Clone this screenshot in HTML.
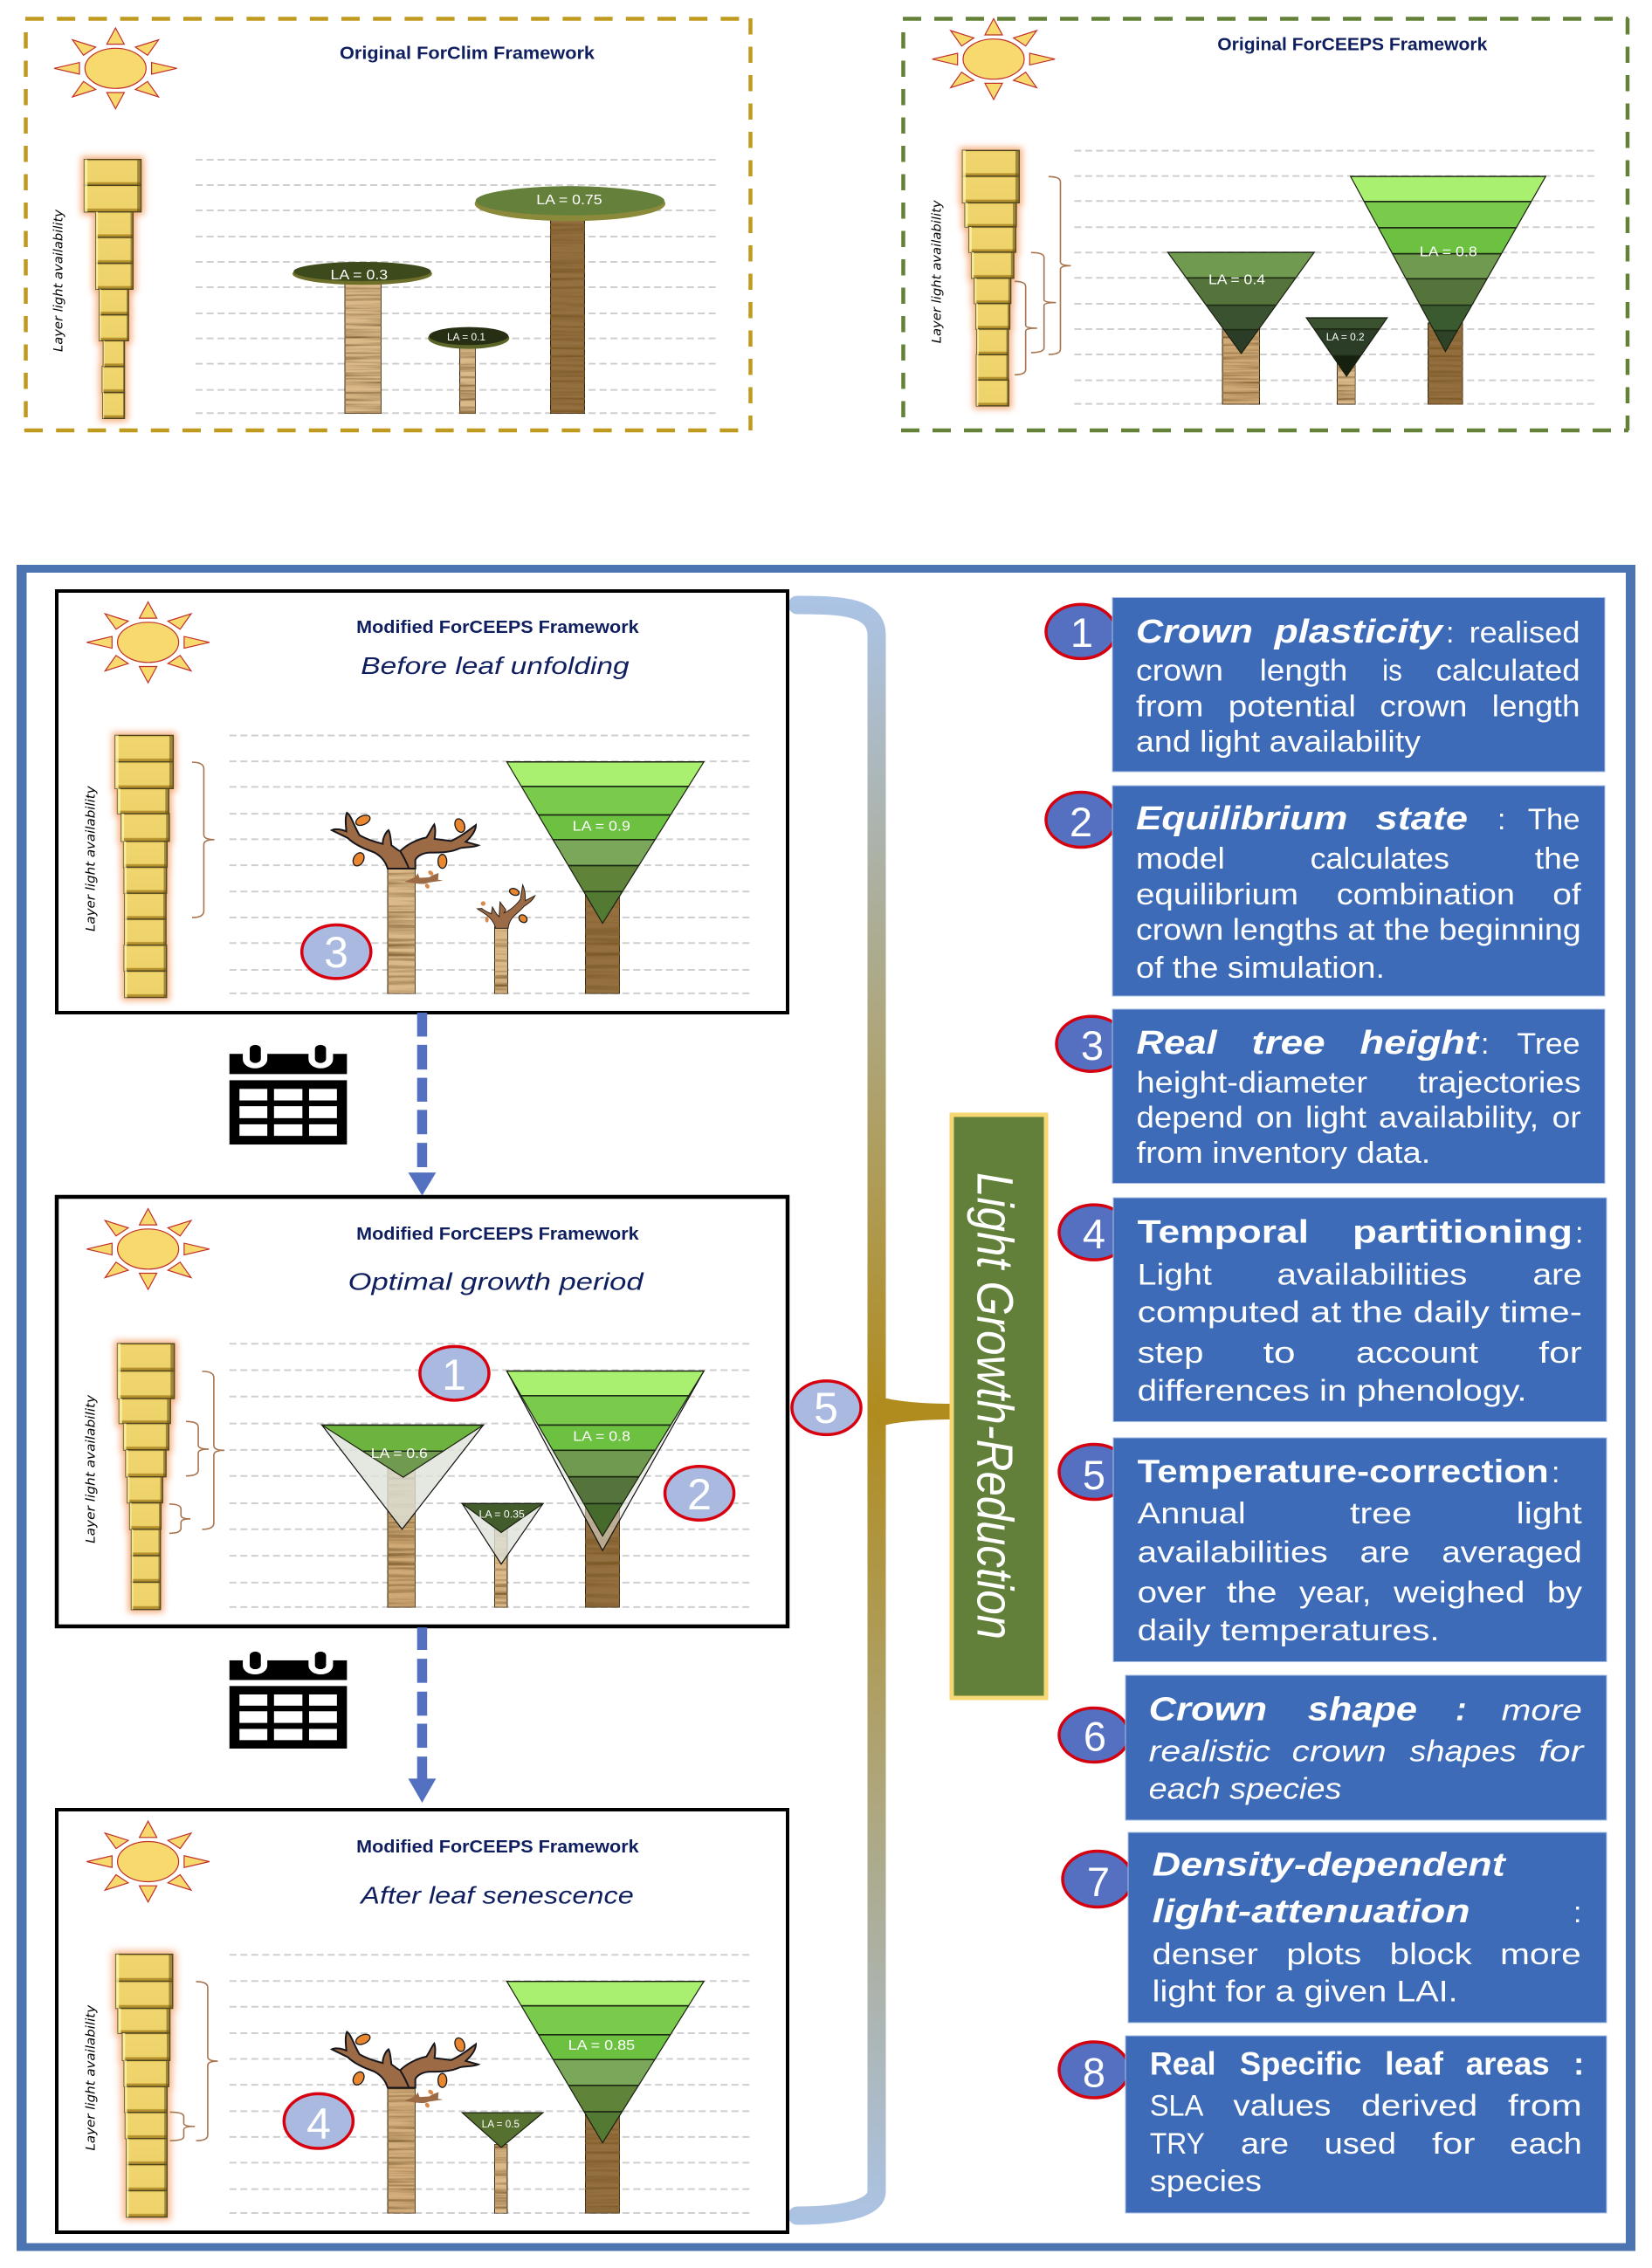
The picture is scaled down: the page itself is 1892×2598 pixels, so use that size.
<!DOCTYPE html>
<html><head><meta charset="utf-8"><title>Light Growth-Reduction framework</title>
<style>
html,body{margin:0;padding:0;background:#fff}
svg{display:block}
svg *{vector-effect:non-scaling-stroke}
text{font-family:"Liberation Sans",sans-serif}
.w{fill:#fff;font-size:34px}
.bi{fill:#fff;font-size:38px;font-weight:bold;font-style:italic}
.bo{fill:#fff;font-size:37px;font-weight:bold}
.i{fill:#fff;font-size:34px;font-style:italic}
.ti{fill:#0f1e5e;font-size:20px;font-weight:bold}
.su{fill:#0f1e5e;font-size:28px;font-style:italic}
.la{fill:#fff;font-size:16px}
.las{fill:#fff;font-size:11.5px}
.ll{fill:#000;font-size:14.5px;font-style:italic;font-family:"DejaVu Sans",sans-serif}
.d{fill:#fff;font-size:50px;text-anchor:middle}
.g{fill:none;stroke:#cfcfcf;stroke-width:2;stroke-dasharray:8 4.5}
.br{fill:none;stroke:#a8744e;stroke-width:1.6}
.bar{fill:url(#barG);stroke:#4d4420;stroke-width:1.4}
.barh{fill:url(#barH);stroke:none}
.gl{fill:#f28a45;stroke:#f28a45;stroke-width:7;opacity:.7}
.cr{stroke:#1d2a14;stroke-width:1.6}
.ol{fill:none;stroke:#1a2010;stroke-width:1.2}
.gh{fill:#dfe2da;stroke:#111;stroke-width:1.2}
.lf{fill:#e8872f;stroke:#1a1a1a;stroke-width:1.3}
.wd{stroke:#2a2016;stroke-width:1.2}
</style></head>
<body>
<svg xmlns="http://www.w3.org/2000/svg" width="1892" height="2598" viewBox="0 0 1892 2598">
<defs>
<linearGradient id="barG" x1="0" y1="0" x2="0" y2="1"><stop offset="0" stop-color="#d6b64a"/><stop offset=".08" stop-color="#f0d56e"/><stop offset=".86" stop-color="#eed26a"/><stop offset=".9" stop-color="#b4912c"/><stop offset="1" stop-color="#b4912c"/></linearGradient>
<linearGradient id="barH" x1="0" y1="0" x2="1" y2="0"><stop offset="0" stop-color="#fff6a8" stop-opacity=".8"/><stop offset=".05" stop-color="#fff6a8" stop-opacity=".8"/><stop offset=".06" stop-color="#fff" stop-opacity="0"/><stop offset=".93" stop-color="#000" stop-opacity="0"/><stop offset=".94" stop-color="#6b5518" stop-opacity=".6"/><stop offset="1" stop-color="#6b5518" stop-opacity=".6"/></linearGradient>
<linearGradient id="brk" gradientUnits="userSpaceOnUse" x1="0" y1="690" x2="0" y2="2545"><stop offset="0" stop-color="#abc3e4"/><stop offset=".5" stop-color="#b08c1f"/><stop offset="1" stop-color="#abc3e4"/></linearGradient>
<filter id="wood" x="0" y="0" width="1" height="1"><feTurbulence type="fractalNoise" baseFrequency="0.004 0.09" numOctaves="4" seed="7"/><feColorMatrix type="matrix" values="0 0 0 0 .2 0 0 0 0 .1 0 0 0 0 .02 2.4 0 0 0 -.95"/><feComposite in2="SourceGraphic" operator="in" result="n"/><feMerge><feMergeNode in="SourceGraphic"/><feMergeNode in="n"/></feMerge></filter>
<filter id="glow" x="-40%" y="-15%" width="180%" height="130%"><feGaussianBlur stdDeviation="7 11"/></filter>
<filter id="glow3" x="-40%" y="-15%" width="180%" height="130%"><feGaussianBlur stdDeviation="6 8"/></filter>
<g id="sun"><ellipse cx="0" cy="0" rx="35" ry="23" fill="#f7d96e" stroke="#c0302a" stroke-width="1.2"/>
<g fill="#f7d96e" stroke="#c0302a" stroke-width="1.2"><polygon points="0,-46.3 -10,-27.7 10,-27.7"/><polygon points="0,46.3 -10,27.7 10,27.7"/><polygon points="70.3,0 41.3,-6.7 41.3,6.7"/><polygon points="-70.3,0 -41.3,-6.7 -41.3,6.7"/><polygon points="49.3,-32.7 22.7,-24.3 36.7,-15"/><polygon points="-49.3,-32.7 -22.7,-24.3 -36.7,-15"/><polygon points="49.3,32.7 22.7,24.3 36.7,15"/><polygon points="-49.3,32.7 -22.7,24.3 -36.7,15"/></g></g>
<g id="tree">
<path d="M222,240C215,215 195,190 165,180C130,168 100,150 85,135L30,108C45,100 70,108 80,112C78,90 75,65 82,48C95,55 105,90 125,125C150,140 185,150 205,155C205,135 215,115 225,108C232,120 232,140 235,160C250,170 258,178 265,180C285,160 320,140 355,133C365,120 372,100 382,88C388,105 385,125 383,138L440,145C475,130 505,105 525,90C525,110 510,130 490,148L533,160C515,168 490,165 470,170C440,185 400,185 370,185C345,185 325,195 317,210L317,240Z" fill="#9c6b46" stroke="#16161c" stroke-width="2"/>
<path d="M266,182C278,200 288,222 296,242" fill="none" stroke="#16161c" stroke-width="2"/>
<path d="M280,285C300,275 320,272 325,255L332,272L365,270C375,262 390,258 397,255L395,278L412,281C390,285 370,285 350,292C330,294 310,290 280,285Z" fill="#9c6b46"/>
<ellipse class="lf" cx="137" cy="74" rx="26" ry="15" transform="rotate(-25 137 74)"/><ellipse class="lf" cx="122" cy="208" rx="17" ry="24" transform="rotate(30 122 208)"/><ellipse class="lf" cx="470" cy="92" rx="16" ry="24" transform="rotate(-20 470 92)"/><ellipse class="lf" cx="410" cy="215" rx="15" ry="24"/>
<ellipse cx="370" cy="255" rx="10" ry="7" fill="#d98a4a" transform="rotate(40 370 255)"/><ellipse cx="358" cy="300" rx="7" ry="9" fill="#d98a4a" transform="rotate(-30 358 300)"/></g>
<g id="tree2">
<path d="M592,445C590,425 575,410 560,398C548,390 540,385 530,378L545,377C555,385 565,390 578,395L582,372C590,385 592,395 605,405L608,355L628,382L622,392C640,385 665,365 678,345L686,296C695,315 695,335 695,350L728,333C720,350 705,360 690,370C670,395 640,405 636,445Z" fill="#9c6b46" stroke="#2a2016" stroke-width="1"/>
<ellipse class="lf" cx="657" cy="320" rx="17" ry="11" transform="rotate(20 657 320)"/><ellipse class="lf" cx="687" cy="412" rx="15" ry="12" transform="rotate(40 687 412)"/><circle cx="550" cy="360" r="8" fill="#d98a4a"/><ellipse cx="563" cy="415" rx="6" ry="10" fill="#d98a4a"/></g>
<g id="cal"><rect x="412" y="1202" width="211" height="49" fill="#000"/><rect x="412" y="1266" width="211" height="156" fill="#000"/>
<path d="M436,1200V1215A22,22 0 0 0 480,1215V1200Z" fill="#fff"/><path d="M554,1200V1215A22,22 0 0 0 598,1215V1200Z" fill="#fff"/><rect x="448.400" y="1180" width="20" height="44" rx="10" fill="#000"/><rect x="565.500" y="1180" width="20" height="44" rx="10" fill="#000"/>
<g fill="#fff"><rect x="430" y="1287" width="50" height="28"/><rect x="492" y="1287" width="51" height="28"/><rect x="555" y="1287" width="50" height="28"/><rect x="430" y="1329" width="50" height="29"/><rect x="492" y="1329" width="51" height="29"/><rect x="555" y="1329" width="50" height="29"/><rect x="430" y="1373" width="50" height="28"/><rect x="492" y="1373" width="51" height="28"/><rect x="555" y="1373" width="50" height="28"/></g></g>
<g id="b1"><rect x="168" y="548" width="113" height="89"/><rect x="168" y="637" width="113" height="91"/><rect x="191" y="728" width="74" height="88"/><rect x="191" y="816" width="74" height="89"/><rect x="191" y="905" width="74" height="89"/><rect x="198" y="994" width="58" height="88"/><rect x="198" y="1082" width="58" height="89"/><rect x="206" y="1171" width="42" height="89"/><rect x="204" y="1260" width="44" height="89"/><rect x="205" y="1349" width="43" height="89"/></g>
<g id="b2"><rect x="180" y="517" width="114" height="89"/><rect x="180" y="606" width="114" height="91"/><rect x="185" y="697" width="103" height="83"/><rect x="193" y="780" width="94" height="87"/><rect x="198" y="867" width="85" height="89"/><rect x="204" y="956" width="73" height="87"/><rect x="207" y="1043" width="68" height="88"/><rect x="209" y="1131" width="63" height="88"/><rect x="208" y="1219" width="64" height="87"/><rect x="208" y="1306" width="65" height="89"/></g>
<g id="b3"><rect x="207" y="429" width="104" height="64"/><rect x="207" y="493" width="104" height="65"/><rect x="211" y="558" width="92" height="61"/><rect x="218" y="619" width="86" height="67"/><rect x="222" y="686" width="78" height="63"/><rect x="223" y="749" width="76" height="63"/><rect x="224" y="812" width="74" height="63"/><rect x="224" y="875" width="74" height="63"/><rect x="223" y="938" width="76" height="63"/><rect x="224" y="1001" width="75" height="64"/></g>
<g id="b4"><rect x="211" y="412" width="102" height="68"/><rect x="211" y="480" width="102" height="69"/><rect x="214" y="549" width="92" height="62"/><rect x="222" y="611" width="81" height="66"/><rect x="226" y="677" width="72" height="67"/><rect x="229" y="744" width="63" height="65"/><rect x="233" y="809" width="56" height="66"/><rect x="236" y="875" width="52" height="66"/><rect x="236" y="941" width="52" height="66"/><rect x="236" y="1007" width="52" height="68"/></g>
<g id="b5"><rect x="208" y="558" width="102" height="87"/><rect x="208" y="645" width="102" height="87"/><rect x="212" y="732" width="93" height="80"/><rect x="220" y="812" width="85" height="88"/><rect x="223" y="900" width="80" height="84"/><rect x="224" y="984" width="76" height="83"/><rect x="225" y="1067" width="75" height="84"/><rect x="227" y="1151" width="73" height="84"/><rect x="227" y="1235" width="73" height="84"/><rect x="227" y="1319" width="73" height="85"/></g>
<clipPath id="c2a"><polygon points="593,867 888,867 741,1215"/></clipPath>
<clipPath id="c2b"><polygon points="872,1092 1035,1092 953,1293"/></clipPath>
<clipPath id="c2c"><polygon points="961,606 1354,606 1152,1208"/></clipPath>
<clipPath id="c3c"><polygon points="910,493 1264,493 1082,885"/></clipPath>
<clipPath id="c4a"><polygon points="578,615 868,615 724,745"/></clipPath>
<clipPath id="c4c"><polygon points="910,480 1264,480 1082,892"/></clipPath>
<clipPath id="c5c"><polygon points="910,645 1264,645 1082,1165"/></clipPath>
</defs>
<rect width="1892" height="2598" fill="#fff"/>

<!-- Frame 1 -->
<g fill="none" stroke="#bf9a1f" stroke-width="4.5"><path d="M29 21.5H860" stroke-dasharray="21 15.2"/><path d="M28 493H860" stroke-dasharray="21 15.2"/><path d="M29.5 37V493" stroke-dasharray="18.5 14"/><path d="M859.5 21V493" stroke-dasharray="18.5 14"/></g>
<use href="#sun" transform="translate(132.3,78.3)"/>
<g transform="scale(.5747,.3333)">
<path class="g" d="M390 549H1430M390 636H1430M390 723H1430M390 813H1430M390 900H1430M390 987H1430M390 1077H1430M390 1163H1430M390 1250H1430M390 1340H1430M390 1420H1430"/>
<use href="#b1" class="gl" filter="url(#glow)"/><use href="#b1" class="bar"/><use href="#b1" class="barh"/>
<rect class="wd" x="687" y="975" width="73" height="447" fill="#dcb988" filter="url(#wood)"/>
<rect class="wd" x="916" y="1195" width="32" height="227" fill="#dcb988" filter="url(#wood)"/>
<rect class="wd" x="1097" y="755" width="68" height="667" fill="#94703f" filter="url(#wood)"/>
<ellipse cx="722" cy="941" rx="139" ry="38" fill="#6d6f2b"/><ellipse cx="722" cy="933" rx="137" ry="33" fill="#3d4a1c"/>
<ellipse cx="934" cy="1162" rx="81" ry="37" fill="#5c6528"/><ellipse cx="934" cy="1155" rx="79" ry="31" fill="#262f14"/>
<ellipse cx="1136" cy="700" rx="190" ry="60" fill="#8b8a3a"/><ellipse cx="1136" cy="690" rx="188" ry="50" fill="#64803a"/>
</g>
<text class="ti" x="389" y="67.7" textLength="292" lengthAdjust="spacingAndGlyphs">Original ForClim Framework</text>
<text class="la" x="378.5" y="320" textLength="65.7" lengthAdjust="spacingAndGlyphs">LA = 0.3</text>
<text class="las" x="512" y="390" textLength="44" lengthAdjust="spacingAndGlyphs">LA = 0.1</text>
<text class="la" x="614.3" y="234" textLength="75.3" lengthAdjust="spacingAndGlyphs">LA = 0.75</text>
<text class="ll" transform="translate(71.7,403) rotate(-90)" textLength="163" lengthAdjust="spacingAndGlyphs">Layer light availability</text>

<!-- Frame 2 -->
<g fill="none" stroke="#638137" stroke-width="4.5"><path d="M1034 21.5H1865" stroke-dasharray="21 15"/><path d="M1032 493H1865" stroke-dasharray="21 15"/><path d="M1034.5 37V493" stroke-dasharray="18.5 14"/><path d="M1864 21V493" stroke-dasharray="18.5 14"/></g>
<use href="#sun" transform="translate(1138,67.7)"/>
<g transform="translate(1000,0) scale(.5689,.3333)">
<path class="g" d="M405 518H1452M405 605H1452M405 691H1452M405 781H1452M405 868H1452M405 955H1452M405 1044H1452M405 1131H1452M405 1218H1452M405 1307H1452M405 1388H1452"/>
<use href="#b2" class="gl" filter="url(#glow)"/><use href="#b2" class="bar"/><use href="#b2" class="barh"/>
<path class="br" d="M353,607Q377,607 377,625L377,900Q377,913 398,913Q377,913 377,926L377,1200Q377,1218 353,1218"/>
<path class="br" d="M318,868Q344,868 344,885L344,1030Q344,1040 368,1040Q344,1040 344,1050L344,1195Q344,1212 318,1212"/>
<path class="br" d="M285,967Q307,967 307,985L307,1118Q307,1128 330,1128Q307,1128 307,1138L307,1270Q307,1288 285,1288"/>
<rect class="wd" x="703" y="1130" width="75" height="260" fill="#d0aa76" filter="url(#wood)"/>
<rect class="wd" x="934" y="1240" width="37" height="150" fill="#dcb988" filter="url(#wood)"/>
<rect class="wd" x="1117" y="1110" width="70" height="280" fill="#94703f" filter="url(#wood)"/>
<g clip-path="url(#c2a)"><rect class="cr" x="590" y="867" width="300" height="88" fill="#6f9a4f"/><rect class="cr" x="590" y="955" width="300" height="94" fill="#54743c"/><rect class="cr" x="590" y="1049" width="300" height="84" fill="#3a5230"/><rect class="cr" x="590" y="1133" width="300" height="90" fill="#2b3d26"/></g><polygon class="ol" points="593,867 888,867 741,1215"/>
<g clip-path="url(#c2b)"><rect class="cr" x="870" y="1092" width="170" height="39" fill="#3a5230"/><rect class="cr" x="870" y="1131" width="170" height="91" fill="#2b3d26"/><rect class="cr" x="870" y="1222" width="170" height="75" fill="#15200f"/></g><polygon class="ol" points="872,1092 1035,1092 953,1293"/>
<g clip-path="url(#c2c)"><rect class="cr" x="950" y="606" width="410" height="87" fill="#a9f070"/><rect class="cr" x="950" y="693" width="410" height="90" fill="#7aca4b"/><rect class="cr" x="950" y="783" width="410" height="89" fill="#6cc240"/><rect class="cr" x="950" y="872" width="410" height="86" fill="#6f9a4f"/><rect class="cr" x="950" y="958" width="410" height="91" fill="#54743c"/><rect class="cr" x="950" y="1049" width="410" height="87" fill="#3a5a30"/><rect class="cr" x="950" y="1136" width="410" height="80" fill="#2d4227"/></g><polygon class="ol" points="961,606 1354,606 1152,1208"/>
</g>
<text class="ti" x="1394.3" y="57.3" textLength="309" lengthAdjust="spacingAndGlyphs">Original ForCEEPS Framework</text>
<text class="la" x="1384" y="325.7" textLength="65" lengthAdjust="spacingAndGlyphs">LA = 0.4</text>
<text class="las" x="1518.8" y="390" textLength="43.8" lengthAdjust="spacingAndGlyphs">LA = 0.2</text>
<text class="la" x="1625.8" y="293.3" textLength="66" lengthAdjust="spacingAndGlyphs">LA = 0.8</text>
<text class="ll" transform="translate(1077.4,393.3) rotate(-90)" textLength="164" lengthAdjust="spacingAndGlyphs">Layer light availability</text>

<!-- Outer border -->
<g fill="#4d74b2"><rect x="19" y="647" width="854" height="9"/><rect x="19" y="2569.5" width="854" height="9"/><rect x="873" y="647" width="1000" height="9"/><rect x="873" y="2569.5" width="1000" height="9"/><rect x="19" y="647" width="11.5" height="1931.5"/><rect x="1862" y="647" width="11" height="1931.5"/></g>

<!-- Bracket -->
<path d="M913,693C965,693 1004,695 1004,728L1004,2510C1004,2530 965,2538 913,2538" fill="none" stroke="url(#brk)" stroke-width="21" stroke-linecap="round"/>
<path d="M1004,1598C1015,1604 1050,1608 1090,1608L1090,1626C1050,1626 1015,1630 1004,1636Z" fill="#b08c1f"/>

<!-- Panels -->
<rect x="65" y="677" width="837" height="483" fill="#fff" stroke="#000" stroke-width="4"/>
<rect x="65" y="1371" width="837" height="492" fill="#fff" stroke="#000" stroke-width="4.5"/>
<rect x="65" y="2073" width="837" height="484" fill="#fff" stroke="#000" stroke-width="4"/>
<use href="#sun" transform="translate(169.6,735.8)"/>
<use href="#sun" transform="translate(169.6,1430.8)"/>
<use href="#sun" transform="translate(169.6,2132.5)"/>

<!-- Panel 1 -->
<g transform="translate(0,640) scale(.6378,.4719)">
<path class="g" d="M412 429H1350M412 492H1350M412 554H1350M412 619H1350M412 681H1350M412 744H1350M412 808H1350M412 871H1350M412 933H1350M412 998H1350M412 1055H1350"/>
<use href="#b3" class="gl" filter="url(#glow3)"/><use href="#b3" class="bar"/><use href="#b3" class="barh"/>
<path class="br" d="M345,494Q366,494 366,510L366,670Q366,682 385,682Q366,682 366,694L366,855Q366,871 345,871"/>
<rect class="wd" x="696" y="750" width="50" height="306" fill="#dcb988" filter="url(#wood)"/>
<rect class="wd" x="888" y="893" width="24" height="163" fill="#dcb988" filter="url(#wood)"/>
<rect class="wd" x="1051" y="815" width="62" height="241" fill="#94703f" filter="url(#wood)"/>
<g clip-path="url(#c3c)"><rect class="cr" x="900" y="493" width="370" height="60" fill="#a9f070"/><rect class="cr" x="900" y="553" width="370" height="69" fill="#7aca4b"/><rect class="cr" x="900" y="622" width="370" height="60" fill="#6cc240"/><rect class="cr" x="900" y="682" width="370" height="63" fill="#7ba75a"/><rect class="cr" x="900" y="745" width="370" height="63" fill="#5f8339"/><rect class="cr" x="900" y="808" width="370" height="85" fill="#527a33"/></g><polygon class="ol" points="910,493 1264,493 1082,885"/>
<ellipse cx="604" cy="954" rx="62" ry="65" fill="#a9b9e0" stroke="#d8000e" stroke-width="3.5"/>
<use href="#cal"/>
<g fill="#5470c0"><rect x="749" y="1102" width="18" height="58"/><rect x="749" y="1180" width="18" height="60"/><rect x="749" y="1260" width="18" height="58"/><rect x="749" y="1338" width="18" height="59"/><rect x="749" y="1418" width="18" height="59"/><polygon points="733,1490 783,1490 758,1546"/></g>
</g>
<g transform="translate(370,915) scale(.33333)"><use href="#tree"/><use href="#tree2"/></g>
<text class="ti" x="408.2" y="725" textLength="323.4" lengthAdjust="spacingAndGlyphs">Modified ForCEEPS Framework</text>
<text class="su" x="413.3" y="772" textLength="307.4" lengthAdjust="spacingAndGlyphs">Before leaf unfolding</text>
<text class="la" x="655.7" y="951.5" textLength="66.3" lengthAdjust="spacingAndGlyphs">LA = 0.9</text>
<text class="ll" transform="translate(108.4,1067) rotate(-90)" textLength="166.6" lengthAdjust="spacingAndGlyphs">Layer light availability</text>
<text class="d" x="385" y="1108">3</text>

<!-- Panel 2 -->
<g transform="translate(0,1350) scale(.6378,.4592)">
<path class="g" d="M412 412H1350M412 478H1350M412 544H1350M412 611H1350M412 677H1350M412 742H1350M412 810H1350M412 875H1350M412 941H1350M412 1008H1350M412 1069H1350"/>
<use href="#b4" class="gl" filter="url(#glow3)"/><use href="#b4" class="bar"/><use href="#b4" class="barh"/>
<path class="br" d="M363,481Q384,481 384,497L384,666Q384,678 403,678Q384,678 384,690L384,859Q384,875 363,875"/>
<path class="br" d="M334,606Q356,606 356,620L356,665Q356,675 375,675Q356,675 356,685L356,728Q356,742 334,742"/>
<path class="br" d="M304,812Q325,812 325,825L325,840Q325,849 342,849Q325,849 325,858L325,872Q325,885 304,885"/>
<rect class="wd" x="696" y="720" width="50" height="350" fill="#d0aa76" filter="url(#wood)"/>
<rect class="wd" x="888" y="875" width="23" height="195" fill="#dcb988" filter="url(#wood)"/>
<rect class="wd" x="1051" y="820" width="62" height="250" fill="#94703f" filter="url(#wood)"/>
<polygon class="gh" points="578,615 868,615 722,875" style="fill-opacity:.8"/>
<polygon class="gh" points="830,811 975,811 900,962" style="fill-opacity:.8"/>
<polygon class="gh" points="910,480 1264,480 1082,928" style="fill-opacity:.55"/>
<g clip-path="url(#c4a)"><rect class="cr" x="570" y="615" width="305" height="65" fill="#6db33f"/><rect class="cr" x="570" y="680" width="305" height="70" fill="#6f9a4f"/></g><polygon class="ol" points="578,615 868,615 724,745"/>
<polygon points="830,811 975,811 900,883" class="ol" style="fill:#425c2c"/>
<g clip-path="url(#c4c)"><rect class="cr" x="900" y="480" width="370" height="62" fill="#a9f070"/><rect class="cr" x="900" y="542" width="370" height="73" fill="#7aca4b"/><rect class="cr" x="900" y="615" width="370" height="63" fill="#6cc240"/><rect class="cr" x="900" y="678" width="370" height="66" fill="#6f9a4f"/><rect class="cr" x="900" y="744" width="370" height="67" fill="#54743c"/><rect class="cr" x="900" y="811" width="370" height="90" fill="#456a2c"/></g><polygon class="ol" points="910,480 1264,480 1082,892"/>
<ellipse cx="816" cy="486" rx="62" ry="67" fill="#a9b9e0" stroke="#d8000e" stroke-width="3.5"/>
<ellipse cx="1256" cy="785" rx="62" ry="67" fill="#a9b9e0" stroke="#d8000e" stroke-width="3.5"/>
<ellipse cx="1484" cy="572" rx="62" ry="67" fill="#a9b9e0" stroke="#d8000e" stroke-width="3.5"/>
<use href="#cal"/>
<g fill="#5470c0"><rect x="749" y="1120" width="18" height="56"/><rect x="749" y="1198" width="18" height="60"/><rect x="749" y="1280" width="18" height="60"/><rect x="749" y="1360" width="18" height="60"/><rect x="749" y="1442" width="18" height="58"/><polygon points="733,1497 783,1497 758,1557"/></g>
</g>
<text class="ti" x="408.2" y="1419.8" textLength="323.4" lengthAdjust="spacingAndGlyphs">Modified ForCEEPS Framework</text>
<text class="su" x="398.6" y="1477.6" textLength="338" lengthAdjust="spacingAndGlyphs">Optimal growth period</text>
<text class="la" x="424.8" y="1670" textLength="65" lengthAdjust="spacingAndGlyphs">LA = 0.6</text>
<text class="las" x="548.5" y="1738.5" textLength="52.3" lengthAdjust="spacingAndGlyphs">LA = 0.35</text>
<text class="la" x="656.3" y="1650.3" textLength="65.7" lengthAdjust="spacingAndGlyphs">LA = 0.8</text>
<text class="ll" transform="translate(108.4,1767.9) rotate(-90)" textLength="170" lengthAdjust="spacingAndGlyphs">Layer light availability</text>
<text class="d" x="520" y="1592">1</text>
<text class="d" x="801" y="1729">2</text>
<text class="d" x="946" y="1630">5</text>

<!-- Panel 3 -->
<g transform="translate(0,2040) scale(.6378,.3559)">
<path class="g" d="M412 560H1350M412 644H1350M412 727H1350M412 812H1350M412 895H1350M412 978H1350M412 1063H1350M412 1146H1350M412 1229H1350M412 1314H1350M412 1391H1350"/>
<use href="#b5" class="gl" filter="url(#glow)"/><use href="#b5" class="bar"/><use href="#b5" class="barh"/>
<path class="br" d="M352,646Q373,646 373,665L373,888Q373,902 391,902Q373,902 373,916L373,1140Q373,1158 352,1158"/>
<path class="br" d="M305,1066Q330,1066 330,1080L330,1102Q330,1112 350,1112Q330,1112 330,1122L330,1145Q330,1158 305,1158"/>
<rect class="wd" x="696" y="990" width="50" height="402" fill="#d4ae7c" filter="url(#wood)"/>
<rect class="wd" x="888" y="1170" width="23" height="222" fill="#dcb988" filter="url(#wood)"/>
<rect class="wd" x="1051" y="1070" width="62" height="322" fill="#94703f" filter="url(#wood)"/>
<polygon points="830,1068 975,1068 900,1180" style="fill:#56702f" class="ol"/>
<g clip-path="url(#c5c)"><rect class="cr" x="900" y="645" width="370" height="79" fill="#a9f070"/><rect class="cr" x="900" y="724" width="370" height="93" fill="#7aca4b"/><rect class="cr" x="900" y="817" width="370" height="80" fill="#6cc240"/><rect class="cr" x="900" y="897" width="370" height="83" fill="#7ba75a"/><rect class="cr" x="900" y="980" width="370" height="85" fill="#5f8339"/><rect class="cr" x="900" y="1065" width="370" height="105" fill="#527a33"/></g><polygon class="ol" points="910,645 1264,645 1082,1165"/>
<ellipse cx="572" cy="1095" rx="62" ry="88" fill="#a9b9e0" stroke="#d8000e" stroke-width="3.5"/>
</g>
<g transform="translate(370,2311.5) scale(.33333)"><use href="#tree"/></g>
<text class="ti" x="408.2" y="2121.8" textLength="323.4" lengthAdjust="spacingAndGlyphs">Modified ForCEEPS Framework</text>
<text class="su" x="413.3" y="2180.6" textLength="312.5" lengthAdjust="spacingAndGlyphs">After leaf senescence</text>
<text class="la" x="650.6" y="2347.9" textLength="76.5" lengthAdjust="spacingAndGlyphs">LA = 0.85</text>
<text class="las" x="551.7" y="2436.8" textLength="43.4" lengthAdjust="spacingAndGlyphs">LA = 0.5</text>
<text class="ll" transform="translate(108.4,2463.5) rotate(-90)" textLength="166.6" lengthAdjust="spacingAndGlyphs">Layer light availability</text>
<text class="d" x="365" y="2450">4</text>

<!-- Green vertical box -->
<rect x="1090" y="1277" width="108" height="668" fill="#62803a" stroke="#f7d774" stroke-width="5"/>
<text transform="translate(1119.5,1343) rotate(90)" fill="#fff" font-size="58" font-style="italic" textLength="535" lengthAdjust="spacingAndGlyphs">Light Growth-Reduction</text>

<!-- Side number circles -->
<g fill="#5570c0" stroke="#d4000f" stroke-width="3.5">
<ellipse cx="1238" cy="723.4" rx="40" ry="31"/><ellipse cx="1238" cy="939" rx="40" ry="31.5"/><ellipse cx="1250" cy="1195.7" rx="40" ry="31.5"/><ellipse cx="1253" cy="1411.6" rx="40" ry="31.5"/><ellipse cx="1253" cy="1686" rx="40" ry="31.5"/><ellipse cx="1253" cy="1987.5" rx="40" ry="31"/><ellipse cx="1257" cy="2152.5" rx="40" ry="32"/><ellipse cx="1253" cy="2371" rx="40" ry="32"/>
</g>
<g class="numbers">
<text class="d" x="1239" y="741" style="font-size:47px">1</text><text class="d" x="1238" y="958" style="font-size:47px">2</text><text class="d" x="1251" y="1214" style="font-size:47px">3</text><text class="d" x="1253" y="1430" style="font-size:47px">4</text><text class="d" x="1253" y="1706" style="font-size:47px">5</text><text class="d" x="1254" y="2005.5" style="font-size:47px">6</text><text class="d" x="1258" y="2172" style="font-size:47px">7</text><text class="d" x="1253" y="2390.5" style="font-size:47px">8</text>
</g>

<!-- Boxes -->
<g fill="#3e6bb8" stroke="#a9bfe3" stroke-width="1">
<rect x="1274" y="684.5" width="564" height="199.5"/><rect x="1274" y="900" width="564" height="241"/><rect x="1274" y="1156" width="564" height="199.5"/><rect x="1275" y="1372" width="565" height="256.5"/><rect x="1275" y="1647" width="565" height="256.5"/><rect x="1289" y="1919" width="551" height="166"/><rect x="1292" y="2099" width="548" height="218"/><rect x="1289" y="2332" width="551" height="203"/>
</g>

<!-- Box 1 -->
<text class="bi" x="1301" y="736" textLength="134" lengthAdjust="spacingAndGlyphs">Crown</text>
<text class="bi" x="1459.6" y="736" textLength="192.4" lengthAdjust="spacingAndGlyphs">plasticity</text>
<text class="w" x="1656" y="736">:</text>
<text class="w" x="1682.6" y="736" textLength="126.9" lengthAdjust="spacingAndGlyphs">realised</text>
<text class="w" x="1301" y="779.6" textLength="100" lengthAdjust="spacingAndGlyphs">crown</text>
<text class="w" x="1442.6" y="779.6" textLength="100.7" lengthAdjust="spacingAndGlyphs">length</text>
<text class="w" x="1583.1" y="779.6" textLength="22.8" lengthAdjust="spacingAndGlyphs">is</text>
<text class="w" x="1644.6" y="779.6" textLength="165" lengthAdjust="spacingAndGlyphs">calculated</text>
<text class="w" x="1301" y="820.7" textLength="77.4" lengthAdjust="spacingAndGlyphs">from</text>
<text class="w" x="1406.8" y="820.7" textLength="146.2" lengthAdjust="spacingAndGlyphs">potential</text>
<text class="w" x="1580.3" y="820.7" textLength="100.1" lengthAdjust="spacingAndGlyphs">crown</text>
<text class="w" x="1708.8" y="820.7" textLength="100.7" lengthAdjust="spacingAndGlyphs">length</text>
<text class="w" x="1301" y="860.9" textLength="326" lengthAdjust="spacingAndGlyphs">and light availability</text>

<!-- Box 2 -->
<text class="bi" x="1301" y="950.2" textLength="242.4" lengthAdjust="spacingAndGlyphs">Equilibrium</text>
<text class="bi" x="1575.7" y="950.2" textLength="105.3" lengthAdjust="spacingAndGlyphs">state</text>
<text class="w" x="1715" y="950.2">:</text>
<text class="w" x="1749.8" y="950.2" textLength="59.7" lengthAdjust="spacingAndGlyphs">The</text>
<text class="w" x="1301" y="994.8" textLength="101.8" lengthAdjust="spacingAndGlyphs">model</text>
<text class="w" x="1500.6" y="994.8" textLength="159.3" lengthAdjust="spacingAndGlyphs">calculates</text>
<text class="w" x="1757.8" y="994.8" textLength="51.8" lengthAdjust="spacingAndGlyphs">the</text>
<text class="w" x="1301" y="1035.9" textLength="186" lengthAdjust="spacingAndGlyphs">equilibrium</text>
<text class="w" x="1530.8" y="1035.9" textLength="204.2" lengthAdjust="spacingAndGlyphs">combination</text>
<text class="w" x="1778.3" y="1035.9" textLength="32.4" lengthAdjust="spacingAndGlyphs">of</text>
<text class="w" x="1301" y="1076.5" textLength="509.7" lengthAdjust="spacingAndGlyphs">crown lengths at the beginning</text>
<text class="w" x="1301" y="1119.8" textLength="285" lengthAdjust="spacingAndGlyphs">of the simulation.</text>

<!-- Box 3 -->
<text class="bi" x="1301.5" y="1206.9" textLength="92.2" lengthAdjust="spacingAndGlyphs">Real</text>
<text class="bi" x="1433.5" y="1206.9" textLength="84.2" lengthAdjust="spacingAndGlyphs">tree</text>
<text class="bi" x="1557.5" y="1206.9" textLength="135.4" lengthAdjust="spacingAndGlyphs">height</text>
<text class="w" x="1696" y="1206.9">:</text>
<text class="w" x="1737.3" y="1206.9" textLength="72.3" lengthAdjust="spacingAndGlyphs">Tree</text>
<text class="w" x="1301.5" y="1251.5" textLength="264.5" lengthAdjust="spacingAndGlyphs">height-diameter</text>
<text class="w" x="1624" y="1251.5" textLength="186.6" lengthAdjust="spacingAndGlyphs">trajectories</text>
<text class="w" x="1301.5" y="1291.7" textLength="122.3" lengthAdjust="spacingAndGlyphs">depend</text>
<text class="w" x="1438.6" y="1291.7" textLength="42" lengthAdjust="spacingAndGlyphs">on</text>
<text class="w" x="1495" y="1291.7" textLength="70" lengthAdjust="spacingAndGlyphs">light</text>
<text class="w" x="1579" y="1291.7" textLength="183.2" lengthAdjust="spacingAndGlyphs">availability,</text>
<text class="w" x="1777.7" y="1291.7" textLength="33" lengthAdjust="spacingAndGlyphs">or</text>
<text class="w" x="1301.5" y="1331.8" textLength="336.8" lengthAdjust="spacingAndGlyphs">from inventory data.</text>

<!-- Box 4 -->
<text class="bo" x="1302.7" y="1423.7" textLength="196.3" lengthAdjust="spacingAndGlyphs">Temporal</text>
<text class="bo" x="1549" y="1423.7" textLength="252" lengthAdjust="spacingAndGlyphs">partitioning</text>
<text class="w" x="1804" y="1423.7">:</text>
<text class="w" x="1302.7" y="1471.4" textLength="85.3" lengthAdjust="spacingAndGlyphs">Light</text>
<text class="w" x="1462.5" y="1471.4" textLength="217.9" lengthAdjust="spacingAndGlyphs">availabilities</text>
<text class="w" x="1755.5" y="1471.4" textLength="56.3" lengthAdjust="spacingAndGlyphs">are</text>
<text class="w" x="1302.7" y="1514.3" textLength="509.2" lengthAdjust="spacingAndGlyphs">computed at the daily time-</text>
<text class="w" x="1302.7" y="1561.2" textLength="75.7" lengthAdjust="spacingAndGlyphs">step</text>
<text class="w" x="1446.6" y="1561.2" textLength="37" lengthAdjust="spacingAndGlyphs">to</text>
<text class="w" x="1553" y="1561.2" textLength="140" lengthAdjust="spacingAndGlyphs">account</text>
<text class="w" x="1762.3" y="1561.2" textLength="49.5" lengthAdjust="spacingAndGlyphs">for</text>
<text class="w" x="1302.7" y="1604.5" textLength="446" lengthAdjust="spacingAndGlyphs">differences in phenology.</text>

<!-- Box 5 -->
<text class="bo" x="1302.7" y="1698.2" textLength="471" lengthAdjust="spacingAndGlyphs">Temperature-correction</text>
<text class="w" x="1777" y="1698.2">:</text>
<text class="w" x="1302.7" y="1745" textLength="124" lengthAdjust="spacingAndGlyphs">Annual</text>
<text class="w" x="1546" y="1745" textLength="71" lengthAdjust="spacingAndGlyphs">tree</text>
<text class="w" x="1736.7" y="1745" textLength="75" lengthAdjust="spacingAndGlyphs">light</text>
<text class="w" x="1302.7" y="1789.7" textLength="218" lengthAdjust="spacingAndGlyphs">availabilities</text>
<text class="w" x="1557.5" y="1789.7" textLength="57" lengthAdjust="spacingAndGlyphs">are</text>
<text class="w" x="1651.4" y="1789.7" textLength="160.4" lengthAdjust="spacingAndGlyphs">averaged</text>
<text class="w" x="1302.7" y="1835.3" textLength="78.5" lengthAdjust="spacingAndGlyphs">over</text>
<text class="w" x="1405" y="1835.3" textLength="57.5" lengthAdjust="spacingAndGlyphs">the</text>
<text class="w" x="1488" y="1835.3" textLength="82.5" lengthAdjust="spacingAndGlyphs">year,</text>
<text class="w" x="1596.2" y="1835.3" textLength="150.2" lengthAdjust="spacingAndGlyphs">weighed</text>
<text class="w" x="1772" y="1835.3" textLength="40" lengthAdjust="spacingAndGlyphs">by</text>
<text class="w" x="1302.7" y="1879" textLength="346" lengthAdjust="spacingAndGlyphs">daily temperatures.</text>

<!-- Box 6 -->
<text class="bi" x="1315.7" y="1970.5" textLength="135.4" lengthAdjust="spacingAndGlyphs">Crown</text>
<text class="bi" x="1497.8" y="1970.5" textLength="125.2" lengthAdjust="spacingAndGlyphs">shape</text>
<text class="bi" x="1667" y="1970.5">:</text>
<text class="i" x="1719.7" y="1970.5" textLength="92.2" lengthAdjust="spacingAndGlyphs">more</text>
<text class="i" x="1315.7" y="2017.4" textLength="139.4" lengthAdjust="spacingAndGlyphs">realistic</text>
<text class="i" x="1479.6" y="2017.4" textLength="108" lengthAdjust="spacingAndGlyphs">crown</text>
<text class="i" x="1614.4" y="2017.4" textLength="122.3" lengthAdjust="spacingAndGlyphs">shapes</text>
<text class="i" x="1762.3" y="2017.4" textLength="51" lengthAdjust="spacingAndGlyphs">for</text>
<text class="i" x="1315.7" y="2060.6" textLength="220.7" lengthAdjust="spacingAndGlyphs">each species</text>

<!-- Box 7 -->
<text class="bi" x="1319.7" y="2148.5" textLength="404" lengthAdjust="spacingAndGlyphs">Density-dependent</text>
<text class="bi" x="1319.7" y="2202" textLength="364" lengthAdjust="spacingAndGlyphs">light-attenuation</text>
<text class="w" x="1802" y="2202">:</text>
<text class="w" x="1319.7" y="2250" textLength="121.2" lengthAdjust="spacingAndGlyphs">denser</text>
<text class="w" x="1473.3" y="2250" textLength="86" lengthAdjust="spacingAndGlyphs">plots</text>
<text class="w" x="1591.7" y="2250" textLength="94" lengthAdjust="spacingAndGlyphs">block</text>
<text class="w" x="1718" y="2250" textLength="92.7" lengthAdjust="spacingAndGlyphs">more</text>
<text class="w" x="1319.7" y="2292.7" textLength="350" lengthAdjust="spacingAndGlyphs">light for a given LAI.</text>

<!-- Box 8 -->
<text class="bo" x="1316.9" y="2376.3" textLength="75.7" lengthAdjust="spacingAndGlyphs">Real</text>
<text class="bo" x="1419.9" y="2376.3" textLength="139.4" lengthAdjust="spacingAndGlyphs">Specific</text>
<text class="bo" x="1586" y="2376.3" textLength="67" lengthAdjust="spacingAndGlyphs">leaf</text>
<text class="bo" x="1678.7" y="2376.3" textLength="96" lengthAdjust="spacingAndGlyphs">areas</text>
<text class="bo" x="1802" y="2376.3">:</text>
<text class="w" x="1316.9" y="2423.6" textLength="61.4" lengthAdjust="spacingAndGlyphs">SLA</text>
<text class="w" x="1412.4" y="2423.6" textLength="112" lengthAdjust="spacingAndGlyphs">values</text>
<text class="w" x="1559.2" y="2423.6" textLength="133" lengthAdjust="spacingAndGlyphs">derived</text>
<text class="w" x="1727" y="2423.6" textLength="84.8" lengthAdjust="spacingAndGlyphs">from</text>
<text class="w" x="1316.9" y="2467" textLength="63" lengthAdjust="spacingAndGlyphs">TRY</text>
<text class="w" x="1421" y="2467" textLength="55" lengthAdjust="spacingAndGlyphs">are</text>
<text class="w" x="1516.6" y="2467" textLength="82.5" lengthAdjust="spacingAndGlyphs">used</text>
<text class="w" x="1640" y="2467" textLength="49.5" lengthAdjust="spacingAndGlyphs">for</text>
<text class="w" x="1729.3" y="2467" textLength="82.5" lengthAdjust="spacingAndGlyphs">each</text>
<text class="w" x="1316.9" y="2509.8" textLength="128" lengthAdjust="spacingAndGlyphs">species</text>
</svg>
</body></html>
